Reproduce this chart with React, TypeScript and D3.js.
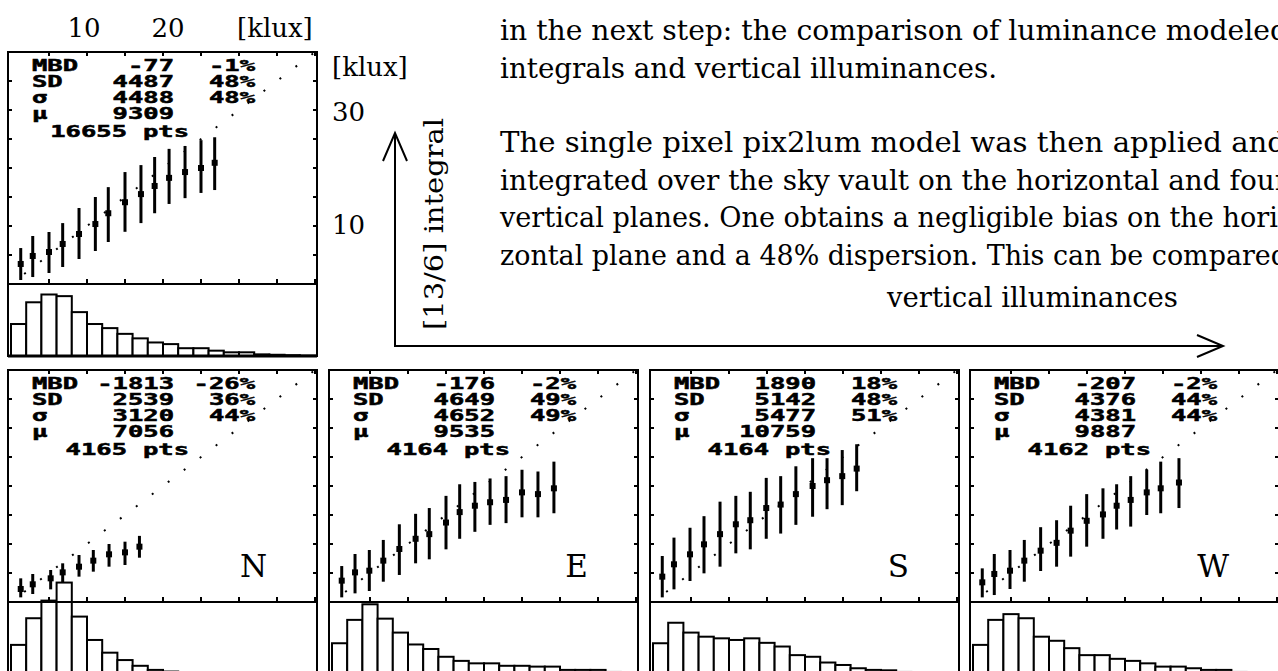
import React from 'react';
import * as d3 from 'd3';

const WIDTH = 1278;
const HEIGHT = 671;

// Axis grid (klux) and histogram binning
const axisTicks = [5, 10, 15, 20, 25, 30, 35, 40];
const histBin = 2; // klux per histogram bin
const identityEnds = [0, 40];

// Horizontal plane
const hzX = [1.28, 2.86, 5.0, 6.8, 8.95, 11.1, 12.8, 15.0, 17.1, 18.9, 20.8, 22.9, 25.0, 26.8];
const hzMean = [3.45, 4.83, 5.52, 6.9, 8.62, 10.34, 12.2, 14.1, 15.5, 16.9, 18.3, 19.3, 20.0, 20.9];
const hzLow = [0.69, 1.2, 1.9, 2.93, 4.31, 5.69, 7.24, 9.0, 10.5, 12.2, 13.8, 14.8, 15.7, 16.2];
const hzHigh = [6.2, 8.28, 8.97, 10.5, 13.1, 15.0, 16.7, 19.3, 20.5, 21.9, 23.3, 23.8, 24.8, 25.3];
const hzHist = [7.8, 13.1, 15.0, 14.6, 10.7, 7.8, 6.8, 5.4, 4.3, 3.3, 2.9, 1.9, 1.9, 1.3, 0.9, 0.9, 0.4, 0.3, 0.2, 0.1];
const hzStats = [-77, 4487, 4488, 9309];
const hzPct = [-1, 48, 48];
const hzPts = 16655;

// North
const nX = [1.28, 2.86, 5.22, 6.8, 8.95, 10.83, 12.9, 15.0, 16.9];
const nMean = [2.24, 3.05, 4.08, 5.11, 6.09, 7.13, 8.22, 8.56, 9.54];
const nLow = [0.8, 1.38, 2.18, 3.33, 4.37, 5.23, 6.09, 6.38, 7.64];
const nHigh = [4.08, 4.83, 5.52, 6.67, 8.1, 8.97, 10.0, 10.4, 11.4];
const nHist = [7.1, 13.6, 17.9, 22.3, 14.0, 8.3, 5.2, 3.4, 2.0, 1.0, 0.6, 0.3, 0.2, 0.1];
const nStats = [-1813, 2539, 3120, 7056];
const nPct = [-26, 36, 44];
const nPts = 4165;

// East
const eX = [1.28, 3.03, 4.91, 6.75, 8.86, 11.0, 12.8, 15.0, 16.8, 18.8, 20.8, 22.9, 25.0, 27.1, 29.2];
const eMean = [3.68, 5.11, 5.4, 7.13, 9.14, 10.9, 11.7, 13.7, 15.5, 16.6, 17.2, 17.6, 18.9, 18.6, 19.6];
const eLow = [0.8, 1.49, 1.9, 3.5, 4.66, 6.67, 7.36, 9.08, 10.9, 12.1, 13.3, 13.6, 14.6, 14.6, 15.3];
const eHigh = [6.2, 8.28, 8.97, 10.7, 13.4, 15.2, 16.2, 18.3, 20.3, 20.7, 21.3, 21.7, 22.8, 22.5, 24.2];
const eHist = [7.5, 13.2, 17.0, 13.5, 10.1, 7.2, 6.1, 4.2, 3.2, 2.6, 2.6, 2.0, 2.0, 1.8, 1.8, 1.0, 1.0, 1.0, 0.5, 0.3];
const eStats = [-176, 4649, 4652, 9535];
const ePct = [-2, 49, 49];
const ePts = 4164;

// South
const sX = [1.22, 2.76, 4.87, 6.71, 8.82, 10.9, 12.8, 14.9, 16.8, 18.8, 21.0, 22.9, 24.9, 26.8];
const sMean = [4.37, 6.5, 8.22, 9.94, 11.7, 13.4, 14.1, 16.2, 16.8, 18.6, 20.0, 21.0, 21.7, 23.0];
const sLow = [0.8, 2.18, 3.62, 4.94, 6.09, 8.39, 9.08, 10.9, 11.8, 13.3, 14.7, 16.0, 16.7, 19.1];
const sHigh = [7.93, 11.1, 12.8, 14.8, 17.3, 18.3, 19.0, 21.4, 21.7, 23.4, 24.8, 24.8, 26.2, 27.2];
const sHist = [7.5, 12.5, 10.1, 9.1, 8.7, 8.3, 8.7, 7.6, 6.7, 4.6, 4.2, 2.8, 2.2, 1.4, 1.0, 0.9, 0.5, 0.4, 0.3, 0.2];
const sStats = [1890, 5142, 5477, 10759];
const sPct = [18, 48, 51];
const sPts = 4164;

// West
const wX = [1.22, 2.8, 4.87, 6.75, 8.9, 11.0, 12.85, 14.96, 17.1, 18.9, 20.75, 22.86, 24.7, 27.1];
const wMean = [3.39, 4.83, 5.4, 7.13, 8.85, 10.2, 12.3, 14.0, 15.1, 16.6, 17.6, 18.9, 19.6, 20.6];
const wLow = [0.8, 1.2, 2.24, 3.5, 5.34, 6.09, 7.82, 9.54, 10.9, 12.5, 13.0, 15.0, 15.3, 16.2];
const wHigh = [5.8, 8.28, 8.97, 10.7, 12.9, 14.1, 16.6, 18.6, 19.6, 20.3, 21.7, 22.8, 24.2, 24.8];
const wHist = [7.1, 13.2, 14.6, 13.6, 9.1, 8.1, 6.3, 4.6, 4.6, 3.7, 3.2, 2.6, 1.8, 1.8, 1.4, 1.0, 1.0, 0.5, 0.3, 0.2];
const wStats = [-207, 4376, 4381, 9887];
const wPct = [-2, 44, 44];
const wPts = 4162;

const statNames = ['MBD', 'SD', 'σ', 'μ'];

// Running text beside the figure; the long lines continue past the page edge
const paragraphA = [
  'in the next step: the comparison of luminance modeled',
  'integrals and vertical illuminances.',
];
const paragraphB = [
  'The single pixel pix2lum model was then applied and',
  'integrated over the sky vault on the horizontal and four',
  'vertical planes. One obtains a negligible bias on the hori-',
  'zontal plane and a 48% dispersion. This can be compared',
];
const lineWidthsA = [788, 497];
const lineWidthsB = [786, 788, 787, 788];

// Geometry
const PW = 309;
const SCATTER_H = 232;
const HIST_H = 72;
const HIST_MAX = 17.56; // % of points mapped to the full histogram strip

const SERIF = "'DejaVu Serif', serif";
const MONO = "'DejaVu Sans Mono', monospace";
const MONO_SX = 1.7;
const LEADING = 37.5;

const panels = [
  { key: 'hz', left: 8, top: 52, label: '', xs: hzX, mean: hzMean, low: hzLow, high: hzHigh, hist: hzHist, stats: hzStats, pct: hzPct, pts: hzPts },
  { key: 'n', left: 8, top: 370, label: 'N', xs: nX, mean: nMean, low: nLow, high: nHigh, hist: nHist, stats: nStats, pct: nPct, pts: nPts },
  { key: 'e', left: 329, top: 370, label: 'E', xs: eX, mean: eMean, low: eLow, high: eHigh, hist: eHist, stats: eStats, pct: ePct, pts: ePts },
  { key: 's', left: 650, top: 370, label: 'S', xs: sX, mean: sMean, low: sLow, high: sHigh, hist: sHist, stats: sStats, pct: sPct, pts: sPts },
  { key: 'w', left: 970, top: 370, label: 'W', xs: wX, mean: wMean, low: wLow, high: wHigh, hist: wHist, stats: wStats, pct: wPct, pts: wPts },
];

function Mono({ x, y, anchor = 'start', children }: any) {
  return (
    <text
      transform={`translate(${x},${y}) scale(${MONO_SX},1)`}
      textAnchor={anchor}
      fontFamily={MONO}
      fontWeight="bold"
      fontSize={15}
      fill="#000"
      stroke="#000"
      strokeWidth={0.5}
    >
      {children}
    </text>
  );
}

function Panel({ p }: any) {
  const x = d3.scaleLinear().domain([0, 40]).range([3, 307]);
  const y = d3.scaleLinear().domain([0, 40]).range([SCATTER_H, 0]);
  const hy = d3.scaleLinear().domain([0, HIST_MAX]).range([0, HIST_H]);
  const xMin = x.invert(0);
  const base = SCATTER_H + HIST_H;

  // dotted 1:1 reference line
  const [a0, a1] = identityEnds;
  const len = Math.hypot(x(a1) - x(a0), y(a1) - y(a0));
  const perUnit = len / (a1 - a0);
  const gap = 2.1 * perUnit;
  const firstDot = 1.84 * perUnit;

  const rowY = [19, 35, 51, 67];

  return (
    <g transform={`translate(${p.left},${p.top})`}>
      <rect x={0} y={0} width={PW} height={base} fill="#fff" />
      {p.hist.map((v: number, i: number) => {
        const lo = Math.max(i * histBin, xMin);
        const hi = (i + 1) * histBin;
        const h = hy(v);
        return (
          <rect
            key={i}
            x={x(lo)}
            y={base - h}
            width={x(hi) - x(lo)}
            height={h}
            fill="#fff"
            stroke="#000"
            strokeWidth={2}
          />
        );
      })}
      <line x1={0} x2={PW} y1={SCATTER_H} y2={SCATTER_H} stroke="#000" strokeWidth={2} />
      <line x1={0} x2={PW} y1={base} y2={base} stroke="#000" strokeWidth={3} />
      <rect x={0} y={0} width={PW} height={base} fill="none" stroke="#000" strokeWidth={2} />
      {axisTicks.map((t) => (
        <g key={'x' + t}>
          <line x1={x(t)} x2={x(t)} y1={0} y2={4} stroke="#000" strokeWidth={2} />
          <line x1={x(t)} x2={x(t)} y1={SCATTER_H} y2={SCATTER_H - 5} stroke="#000" strokeWidth={2} />
        </g>
      ))}
      {axisTicks.slice(0, -1).map((t) => (
        <g key={'y' + t}>
          <line x1={0} x2={4} y1={y(t)} y2={y(t)} stroke="#000" strokeWidth={2} />
          <line x1={PW} x2={PW - 4} y1={y(t)} y2={y(t)} stroke="#000" strokeWidth={2} />
        </g>
      ))}
      <line
        x1={x(a0)}
        y1={y(a0)}
        x2={x(a1)}
        y2={y(a1)}
        stroke="#000"
        strokeWidth={2}
        strokeDasharray={`2 ${gap - 2}`}
        strokeDashoffset={gap - (firstDot - 1)}
      />
      {p.xs.map((xv: number, i: number) => (
        <g key={'e' + i}>
          <line x1={x(xv)} x2={x(xv)} y1={y(p.low[i])} y2={y(p.high[i])} stroke="#000" strokeWidth={3} />
          <rect x={x(xv) - 3} y={y(p.mean[i]) - 3} width={6} height={6} fill="#000" />
        </g>
      ))}
      {statNames.map((s, i) => (
        <g key={s}>
          <Mono x={24} y={rowY[i]}>{s}</Mono>
          <Mono x={166} y={rowY[i]} anchor="end">{String(p.stats[i])}</Mono>
          {i < 3 && <Mono x={247} y={rowY[i]} anchor="end">{p.pct[i] + '%'}</Mono>}
        </g>
      ))}
      <Mono x={119} y={85} anchor="end">{String(p.pts)}</Mono>
      <Mono x={135} y={85}>pts</Mono>
      {p.label && (
        <text x={259} y={207} textAnchor="end" fontFamily={SERIF} fontSize={31} fill="#000">
          {p.label}
        </text>
      )}
    </g>
  );
}

export default function App() {
  return (
    <svg
      width={WIDTH}
      height={HEIGHT}
      viewBox={`0 0 ${WIDTH} ${HEIGHT}`}
      style={{ position: 'absolute', left: 0, top: 0, display: 'block', background: '#fff' }}
    >
      <rect width={WIDTH} height={HEIGHT} fill="#fff" />
      {/* scale labels around the horizontal panel */}
      <g fontFamily={SERIF} fontSize={26} fill="#000">
        <text x={84} y={37} textAnchor="middle">10</text>
        <text x={168} y={37} textAnchor="middle">20</text>
        <text x={237} y={37}>[klux]</text>
        <text x={332} y={76}>[klux]</text>
        <text x={332} y={121}>30</text>
        <text x={332} y={234}>10</text>
      </g>

      {/* body text */}
      <g fontFamily={SERIF} fontSize={28} fill="#000">
        {paragraphA.map((t, i) => (
          <text key={t} x={500} y={40 + i * LEADING} textLength={lineWidthsA[i]} lengthAdjust="spacingAndGlyphs">
            {t}
          </text>
        ))}
        {paragraphB.map((t, i) => (
          <text key={t} x={500} y={152 + i * LEADING} textLength={lineWidthsB[i]} lengthAdjust="spacingAndGlyphs">
            {t}
          </text>
        ))}
        <text x={887} y={307} textLength={291} lengthAdjust="spacingAndGlyphs">vertical illuminances</text>
      </g>

      {/* axis arrows */}
      <g stroke="#000" strokeWidth={2} fill="none">
        <polyline points="395,133 395,346 1223,346" />
        <polyline points="383,161 395,133 407,161" />
        <polyline points="1197,335 1223,346 1197,357" />
      </g>
      <text
        transform="translate(443,330) rotate(-90)"
        fontFamily={SERIF}
        fontSize={26}
        textLength={212}
        lengthAdjust="spacingAndGlyphs"
        fill="#000"
      >
        [13/6] integral
      </text>

      {panels.map((p) => (
        <Panel key={p.key} p={p} />
      ))}
    </svg>
  );
}
